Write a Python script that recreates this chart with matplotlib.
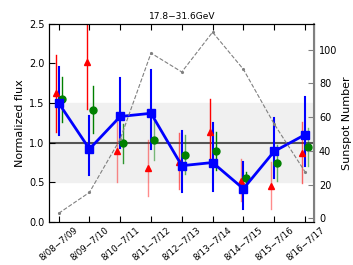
import numpy as np
import matplotlib
matplotlib.use('Agg')
import matplotlib.pyplot as plt

periods = ['8/08\u22127/09', '8/09\u22127/10', '8/10\u22127/11', '8/11\u22127/12', '8/12\u22127/13',
           '8/13\u22127/14', '8/14\u22127/15', '8/15\u22127/16', '8/16\u22127/17']

# blue squares
blue_val = [1.50, 0.92, 1.33, 1.37, 0.71, 0.75, 0.42, 0.89, 1.10]
blue_lo = [1.10, 0.59, 0.93, 0.92, 0.38, 0.39, 0.17, 0.55, 0.71]
blue_hi = [1.95, 1.34, 1.81, 1.91, 1.15, 1.25, 0.76, 1.31, 1.57]

# red triangles
red_val = [1.62, 2.01, 0.89, 0.68, 0.76, 1.14, 0.52, 0.45, 0.87]
red_lo = [1.14, 1.42, 0.50, 0.33, 0.42, 0.74, 0.26, 0.17, 0.49]
red_hi = [2.11, 2.70, 1.26, 1.04, 1.12, 1.55, 0.79, 0.76, 1.26]
red_alpha = [1.0, 1.0, 0.45, 0.45, 0.6, 1.0, 0.45, 0.45, 0.6]

# green circles
green_val = [1.55, 1.41, 0.99, 1.04, 0.845, 0.90, 0.55, 0.75, 0.95]
green_lo = [1.26, 1.12, 0.74, 0.78, 0.61, 0.66, 0.40, 0.52, 0.71]
green_hi = [1.83, 1.71, 1.24, 1.28, 1.10, 1.14, 0.63, 0.97, 1.19]
green_alpha = [1.0, 1.0, 0.8, 0.5, 0.6, 1.0, 1.0, 0.6, 0.5]

sunspot = [3.0, 15.4, 47.0, 98.0, 86.8, 110.4, 88.4, 56.0, 27.7]

x = np.arange(len(periods))

fig = plt.figure(figsize=(3.53, 2.65), dpi=100)
ax = fig.add_axes([0.14, 0.162, 0.75, 0.749])

ax.axhspan(0.5, 1.5, color='#f0f0f0', zorder=0)
ax.axhline(1.0, color='#555555', lw=1.5, zorder=1)

for i in x:
    ax.plot([i - 0.09, i - 0.09], [red_lo[i], red_hi[i]], color='red', lw=1.0, alpha=red_alpha[i], zorder=2)
    ax.plot([i + 0.1, i + 0.1], [green_lo[i], green_hi[i]], color='green', lw=1.0, alpha=green_alpha[i], zorder=2)
    ax.plot([i, i], [blue_lo[i], blue_hi[i]], color='blue', lw=1.5, zorder=3)
ax.plot(x - 0.09, red_val, '^', color='red', ms=5, mec='red', zorder=4)
ax.plot(x + 0.1, green_val, 'o', color='green', ms=5, mec='green', zorder=4)
ax.plot(x, blue_val, 's-', color='blue', lw=2, ms=6, zorder=5)

ax.set_xlim(-0.3, 8.3)
ax.set_ylim(0, 2.5)
ax.set_yticks([0, 0.5, 1.0, 1.5, 2.0, 2.5])
ax.set_xticks(x)
ax.set_xticklabels(periods, rotation=40, ha='center', fontsize=6.3)
ax.tick_params(axis='both', direction='in', labelsize=7, top=True, length=4)
ax.tick_params(axis='x', labelsize=6.3, pad=2)
ax.set_ylabel('Normalized flux', fontsize=8, labelpad=3)
ax.set_title('17.8\u221231.6GeV', fontsize=6.5, pad=3)

ax2 = ax.twinx()
ax2.plot(x, sunspot, '--', color='gray', lw=0.8, marker='.', ms=2.5)
ax2.set_ylim(-2.2, 115.5)
ax2.set_yticks([0, 20, 40, 60, 80, 100])
ax2.tick_params(axis='y', direction='in', labelsize=7, length=4, color='gray')
ax2.spines['right'].set_color('gray')
ax2.spines['right'].set_linewidth(1.5)
ax2.set_ylabel('Sunspot Number', fontsize=8, labelpad=3)

fig.savefig('out.png', dpi=100)
